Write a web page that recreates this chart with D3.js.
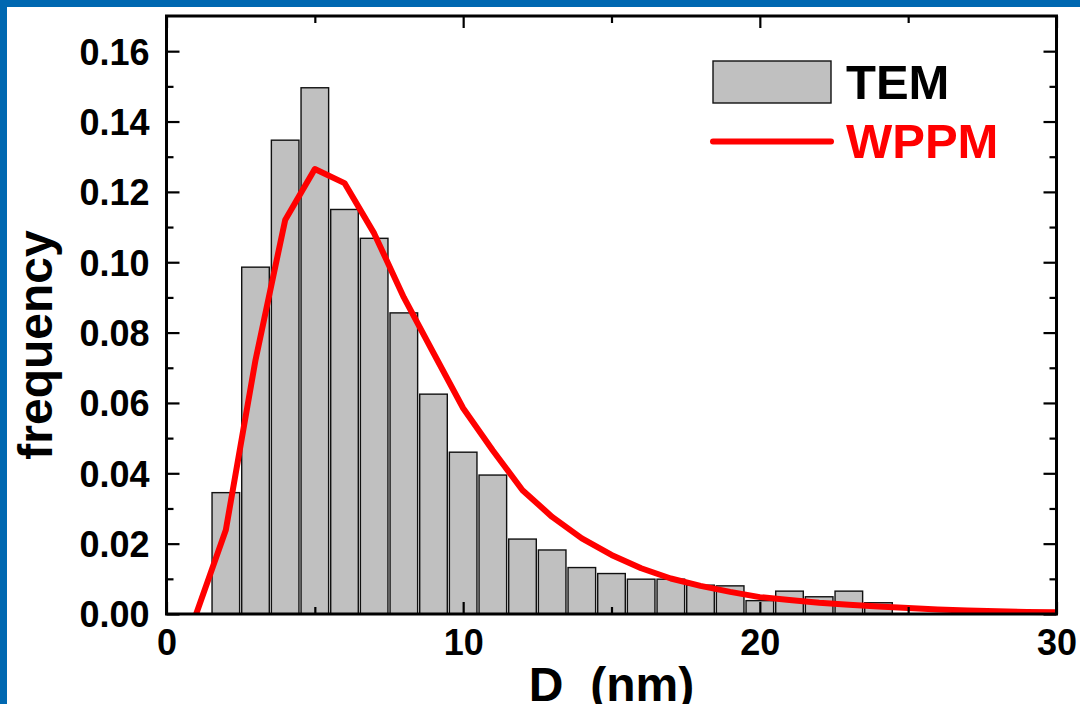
<!DOCTYPE html>
<html>
<head>
<meta charset="utf-8">
<script src="https://cdn.jsdelivr.net/npm/d3@7/dist/d3.min.js"></script>
<style>
  html, body { margin: 0; padding: 0; background: #ffffff; }
  svg { display: block; }
  text { font-family: "Liberation Sans", Arial, Helvetica, sans-serif; font-weight: bold; }
</style>
</head>
<body>
<script>
// ---- data ----
const temD = [2, 3, 4, 5, 6, 7, 8, 9, 10, 11, 12, 13, 14, 15, 16, 17, 18, 19, 20, 21, 22, 23, 24];
const temFreq = [0.0345, 0.0986, 0.1347, 0.1496, 0.1150, 0.1068, 0.0856, 0.0625, 0.0460, 0.0395, 0.0213, 0.0182, 0.0132, 0.0115, 0.0099, 0.0099, 0.0082, 0.0080, 0.0038, 0.0065, 0.0049, 0.0065, 0.0032];
const wppmD = [1, 2, 3, 4, 5, 6, 7, 8, 9, 10, 11, 12, 13, 14, 15, 16, 17, 18, 19, 20, 21, 22, 23, 24, 25, 26, 27, 28, 29, 30];
const wppmFreq = [0.0000, 0.0239, 0.0722, 0.1120, 0.1265, 0.1225, 0.1082, 0.0900, 0.0742, 0.0585, 0.0465, 0.0352, 0.0276, 0.0215, 0.0168, 0.0130, 0.0101, 0.0080, 0.0063, 0.0048, 0.0040, 0.0032, 0.0026, 0.0021, 0.0017, 0.0013, 0.0010, 0.0008, 0.0006, 0.0005];
const xMajorTicks = [0, 10, 20, 30];
const xMinorTicks = [5, 15, 25];
const yMajorTicks = [0, 0.02, 0.04, 0.06, 0.08, 0.10, 0.12, 0.14, 0.16];
const yMinorTicks = [0.01, 0.03, 0.05, 0.07, 0.09, 0.11, 0.13, 0.15];
const xLabel = "D\u00a0\u00a0(nm)";
const yLabel = "frequency";
const legendNames = ["TEM", "WPPM"];

// ---- layout ----
const W = 1080, H = 704;
const L = 166.5, R = 1056.5, T = 16, B = 614;
const binHalf = 0.465;

const svg = d3.select("body").append("svg").attr("width", W).attr("height", H);
svg.append("rect").attr("width", W).attr("height", H).attr("fill", "#ffffff");
// blue border (top and left)
svg.append("rect").attr("x", 0).attr("y", 0).attr("width", W).attr("height", 7).attr("fill", "#0068b1");
svg.append("rect").attr("x", 0).attr("y", 0).attr("width", 7).attr("height", H).attr("fill", "#0068b1");

const x = d3.scaleLinear().domain([0, 30]).range([L, R]);
const y = d3.scaleLinear().domain([0, 0.17]).range([B, T]);

// bars
svg.append("g").selectAll("rect").data(temD.map((d, i) => ({ d, f: temFreq[i] }))).join("rect")
  .attr("x", p => x(p.d - binHalf))
  .attr("width", p => x(p.d + binHalf) - x(p.d - binHalf))
  .attr("y", p => y(p.f))
  .attr("height", p => y(0) - y(p.f))
  .attr("fill", "#c0c0c0")
  .attr("stroke", "#111")
  .attr("stroke-width", 1.4);

// WPPM line
const line = d3.line().x((d, i) => x(wppmD[i])).y(d => y(d));
svg.append("path").datum(wppmFreq)
  .attr("d", line)
  .attr("fill", "none")
  .attr("stroke", "#ff0000")
  .attr("stroke-width", 6)
  .attr("stroke-linejoin", "round");

// axes
function styleAxis(g, size) {
  g.select(".domain").remove();
  g.selectAll(".tick line").attr("stroke", "#000").attr("stroke-width", 2.2);
  g.selectAll(".tick text").attr("font-size", size).attr("fill", "#000")
    .attr("font-family", '"Liberation Sans", Arial, sans-serif').attr("font-weight", "bold");
}
const gxb = svg.append("g").attr("transform", `translate(0,${B})`)
  .call(d3.axisBottom(x).tickValues(xMajorTicks).tickSizeInner(-12).tickSizeOuter(0).tickPadding(15).tickFormat(d3.format("d")));
styleAxis(gxb, 36);
const gxbm = svg.append("g").attr("transform", `translate(0,${B})`)
  .call(d3.axisBottom(x).tickValues(xMinorTicks).tickSizeInner(-7).tickSizeOuter(0).tickFormat(""));
styleAxis(gxbm, 36);
const gxt = svg.append("g").attr("transform", `translate(0,${T})`)
  .call(d3.axisTop(x).tickValues(xMajorTicks).tickSizeInner(-12).tickSizeOuter(0).tickFormat(""));
styleAxis(gxt, 36);
const gxtm = svg.append("g").attr("transform", `translate(0,${T})`)
  .call(d3.axisTop(x).tickValues(xMinorTicks).tickSizeInner(-7).tickSizeOuter(0).tickFormat(""));
styleAxis(gxtm, 36);

const gyl = svg.append("g").attr("transform", `translate(${L},0)`)
  .call(d3.axisLeft(y).tickValues(yMajorTicks).tickSizeInner(-13).tickSizeOuter(0).tickPadding(17).tickFormat(d3.format(".2f")));
styleAxis(gyl, 36);
gyl.selectAll(".tick text").attr("dy", "0.36em");
const gylm = svg.append("g").attr("transform", `translate(${L},0)`)
  .call(d3.axisLeft(y).tickValues(yMinorTicks).tickSizeInner(-7).tickSizeOuter(0).tickFormat(""));
styleAxis(gylm, 36);
const gyr = svg.append("g").attr("transform", `translate(${R},0)`)
  .call(d3.axisRight(y).tickValues(yMajorTicks).tickSizeInner(-13).tickSizeOuter(0).tickFormat(""));
styleAxis(gyr, 36);
const gyrm = svg.append("g").attr("transform", `translate(${R},0)`)
  .call(d3.axisRight(y).tickValues(yMinorTicks).tickSizeInner(-7).tickSizeOuter(0).tickFormat(""));
styleAxis(gyrm, 36);

// frame
svg.append("rect").attr("x", L).attr("y", T).attr("width", R - L).attr("height", B - T)
  .attr("fill", "none").attr("stroke", "#000").attr("stroke-width", 3);

// axis titles
svg.append("text").attr("x", (L + R) / 2).attr("y", 701).attr("text-anchor", "middle")
  .attr("font-size", 48).attr("fill", "#000").text(xLabel);
svg.append("text").attr("transform", "translate(52,345) rotate(-90)").attr("text-anchor", "middle")
  .attr("font-size", 48).attr("fill", "#000").text(yLabel);

// legend
svg.append("rect").attr("x", 713).attr("y", 61).attr("width", 118).attr("height", 42)
  .attr("fill", "#c0c0c0").attr("stroke", "#111").attr("stroke-width", 1.4);
svg.append("text").attr("x", 846).attr("y", 99).attr("font-size", 49).attr("fill", "#000").text(legendNames[0]);
svg.append("line").attr("x1", 713).attr("x2", 831).attr("y1", 141.5).attr("y2", 141.5)
  .attr("stroke", "#ff0000").attr("stroke-width", 6).attr("stroke-linecap", "round");
svg.append("text").attr("x", 846).attr("y", 158).attr("font-size", 49).attr("fill", "#ff0000").text(legendNames[1]);
</script>
</body>
</html>
